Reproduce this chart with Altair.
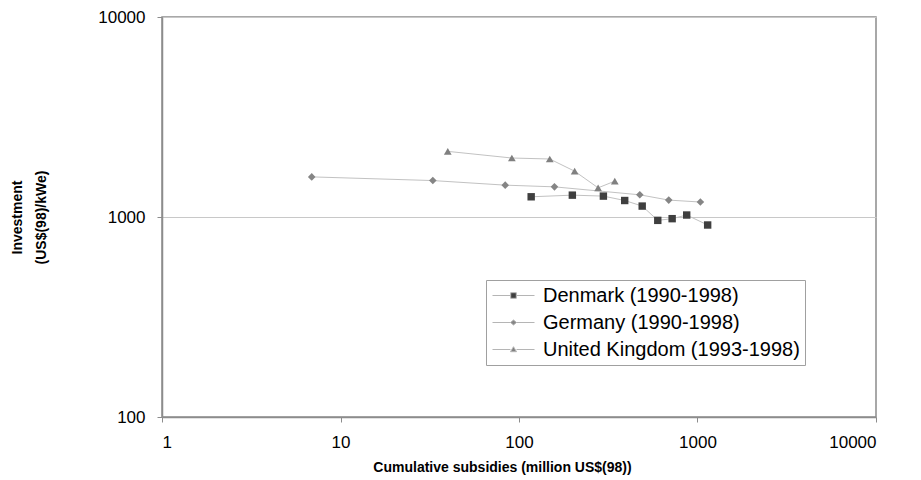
import altair as alt
import pandas as pd

# ---- data ----
series = ["Denmark (1990-1998)", "Germany (1990-1998)", "United Kingdom (1993-1998)"]

dk_x = [117, 199, 297, 391, 490, 599, 721, 870, 1140]
dk_y = [1262, 1286, 1272, 1209, 1134, 962, 981, 1023, 912]

de_x = [6.9, 32.9, 83.7, 158, 475, 690, 1038]
de_y = [1587, 1521, 1443, 1415, 1291, 1215, 1188]

uk_x = [39.9, 91.2, 148.7, 205, 277.5, 344]
uk_y = [2129, 1972, 1950, 1694, 1399, 1511]

x_ticks = [1, 10, 100, 1000, 10000]
y_ticks = [100, 1000, 10000]

rows = []
for name, xs, ys in zip(series, [dk_x, de_x, uk_x], [dk_y, de_y, uk_y]):
    for i, (xv, yv) in enumerate(zip(xs, ys)):
        rows.append({"series": name, "x": xv, "y": yv, "order": i})
df = pd.DataFrame(rows)

marker_colors = ["#3f3f3f", "#858585", "#808080"]
marker_shapes = ["square", "diamond", "triangle-up"]
marker_sizes = [55, 60, 75]

# legend symbols: a short line with the marker in the middle
legend_shapes = [
    "M-2.1,0H-0.3M0.3,0H2.1M-0.28,-0.28H0.28V0.28H-0.28Z",
    "M-2.1,0H-0.3M0.3,0H2.1M0,-0.25L0.3,0L0,0.25L-0.3,0Z",
    "M-2.1,0H-0.3M0.3,0H2.1M0,-0.28L0.3,0.22L-0.3,0.22Z",
]

FONT = "Liberation Sans"
GRID = "#c8c8c8"
FRAME = "#8c8c8c"

x_enc = alt.X(
    "x:Q",
    scale=alt.Scale(type="log", domain=[1, 10000], nice=False),
    axis=alt.Axis(
        values=x_ticks,
        format="d",
        grid=False,
        title="Cumulative subsidies (million US$(98))",
        titleFont=FONT,
        titleFontSize=14,
        titleFontWeight="bold",
        titleColor="black",
        titleBaseline="middle",
        titleAnchor="start",
        titleAlign="center",
        titleX=340,
        titleY=50,
        labelFont=FONT,
        labelFontSize=17,
        labelColor="black",
        labelPadding=12,
        tickSize=5,
        tickColor=FRAME,
        domainColor=FRAME,
        domainWidth=1.5,
    ),
)
y_enc = alt.Y(
    "y:Q",
    scale=alt.Scale(type="log", domain=[100, 10000], nice=False),
    axis=alt.Axis(
        values=y_ticks,
        format="d",
        grid=True,
        gridColor=GRID,
        gridWidth=1,
        title=["Investment", "(US$(98)/kWe)"],
        titleFont=FONT,
        titleFontSize=14,
        titleFontWeight="bold",
        titleColor="black",
        titleLineHeight=24,
        titleAngle=270,
        titleAlign="center",
        titleBaseline="middle",
        titleX=-145,
        titleY=200,
        labelFont=FONT,
        labelFontSize=17,
        labelColor="black",
        labelPadding=12,
        tickSize=5,
        tickColor=FRAME,
        domainColor=FRAME,
        domainWidth=1.5,
    ),
)

base = alt.Chart(df)

lines = base.mark_line(color="#c2c2c2", strokeWidth=1).encode(
    x=x_enc, y=y_enc, detail="series:N", order="order:Q"
)

points = base.mark_point(filled=True, opacity=1).encode(
    x=x_enc,
    y=y_enc,
    shape=alt.Shape("series:N", scale=alt.Scale(domain=series, range=marker_shapes), legend=None),
    color=alt.Color("series:N", scale=alt.Scale(domain=series, range=marker_colors), legend=None),
    size=alt.Size("series:N", scale=alt.Scale(domain=series, range=marker_sizes), legend=None),
)

legend_def = alt.Legend(
    title=None,
    orient="none",
    legendX=324,
    legendY=263,
    strokeColor="#a0a0a0",
    fillColor="white",
    padding=5,
    labelFont=FONT,
    labelFontSize=20,
    labelColor="black",
    labelOffset=19,
    symbolSize=400,
    symbolStrokeColor="#b5b5b5",
    symbolStrokeWidth=1,
    symbolOffset=12,
    rowPadding=6,
    labelLimit=400,
)

legend_layer = base.mark_point(filled=True, opacity=1).encode(
    x=x_enc,
    y=y_enc,
    shape=alt.Shape("series:N", scale=alt.Scale(domain=series, range=legend_shapes), legend=legend_def),
    color=alt.Color("series:N", scale=alt.Scale(domain=series, range=marker_colors), legend=legend_def),
).transform_filter("false")

chart = (
    alt.layer(lines, points, legend_layer)
    .resolve_scale(shape="independent", color="independent", size="independent")
    .properties(
        width=714,
        height=400,
        autosize="none",
        padding={"left": 154, "top": 9, "right": 30, "bottom": 62},
        background="white",
    )
    .configure_view(stroke=FRAME, strokeWidth=1.5)
)

chart.save("out.html", embed_options={"renderer": "svg", "actions": False})
